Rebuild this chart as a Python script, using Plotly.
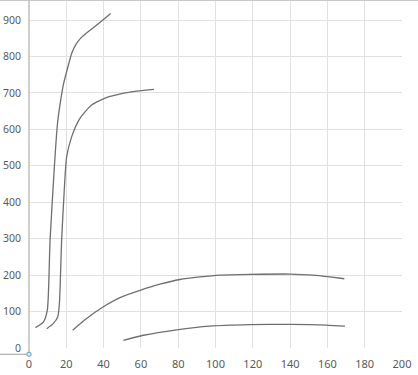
import plotly.graph_objects as go

# curve data
c1_x = [3.5, 7.7, 9.8, 11.3, 13.6, 15.2, 16.6, 18.4, 21.1, 23.0, 25.0, 27.5, 30.5, 34.5, 38.8, 43.8]
c1_y = [56, 71, 103, 296, 497, 612, 667, 722, 776, 810, 832, 849, 863, 879, 897, 918]

c2_x = [9.5, 13.0, 15.4, 16.3, 17.5, 18.9, 20.2, 22.9, 27.3, 33.6, 42.5, 55.0, 67.0]
c2_y = [53, 67, 85, 122, 296, 433, 525, 580, 630, 667, 689, 703, 710]

c3_x = [23.4, 30.9, 39.9, 48.8, 59.5, 70.2, 81.0, 91.7, 102.4, 118.5, 140.0, 152.4, 161.4, 169.1]
c3_y = [49, 81, 113, 138, 158, 175, 188, 195, 200, 202, 203, 200, 195, 190]

c4_x = [50.6, 61.3, 79.2, 97.0, 118.5, 140.0, 159.6, 169.4]
c4_y = [21, 35, 50, 60, 64, 65, 63, 60]

x_ticks = [0, 20, 40, 60, 80, 100, 120, 140, 160, 180, 200]
y_ticks = [0, 100, 200, 300, 400, 500, 600, 700, 800, 900]

line_color = "#6f6f6f"
fig = go.Figure()
for xs, ys in [(c1_x, c1_y), (c2_x, c2_y), (c3_x, c3_y), (c4_x, c4_y)]:
    fig.add_trace(go.Scatter(x=xs, y=ys, mode="lines",
                             line=dict(color=line_color, width=1.3, shape="spline", smoothing=0.6),
                             showlegend=False, hoverinfo="skip"))

fig.update_layout(
    width=418, height=375,
    margin=dict(l=29, r=16, t=0, b=27),
    paper_bgcolor="white", plot_bgcolor="white",
    font=dict(family="Noto Sans, Liberation Sans, sans-serif", size=11, color="#595959"),
    xaxis=dict(range=[0, 200], tickvals=x_ticks, ticktext=[str(v) for v in x_ticks],
               showgrid=True, gridcolor="#e0e0e0", gridwidth=1, zeroline=False,
               showline=False, ticks="", ticklen=0, ticklabelstandoff=8),
    yaxis=dict(range=[0, 955], tickvals=y_ticks, ticktext=[str(v) for v in y_ticks],
               showgrid=True, gridcolor="#e0e0e0", gridwidth=1, zeroline=False,
               showline=False, ticks="", ticklen=0, ticklabelstandoff=7,
               tickfont=dict(size=10.5)),
    shapes=[
        # top border
        dict(type="line", xref="paper", yref="paper", x0=-0.08, x1=1.05, y0=0.999, y1=0.999,
             line=dict(color="#c8c8c8", width=1.5)),
        # y axis line (extends slightly below the plot)
        dict(type="line", xref="paper", yref="paper", x0=0, x1=0, y0=-0.014, y1=1,
             line=dict(color="#bfbfbf", width=1.5)),
        # short line left of origin
        dict(type="line", xref="paper", yref="paper", x0=-0.08, x1=0, y0=-0.018, y1=-0.018,
             line=dict(color="#a0a0a0", width=1)),
        # small blue circle
        dict(type="circle", xref="paper", yref="paper", x0=-0.006, x1=0.006, y0=-0.024, y1=-0.012,
             line=dict(color="#5b9bd5", width=1), fillcolor="#ddebf7"),
    ],
)

fig.write_html("out.html")
